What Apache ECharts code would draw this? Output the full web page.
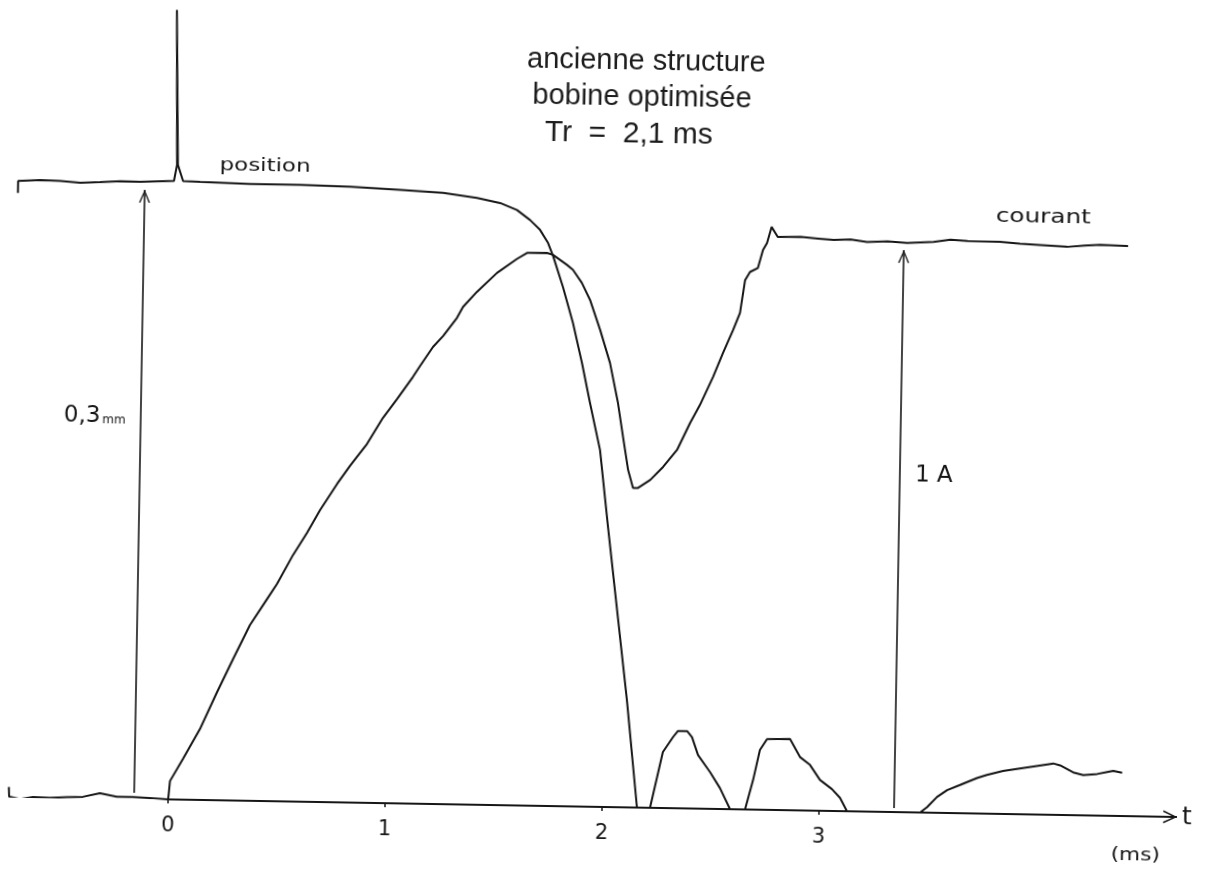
<!DOCTYPE html>
<html lang="fr">
<head>
<meta charset="utf-8">
<title>ancienne structure – bobine optimisée</title>
<script src="https://cdn.jsdelivr.net/npm/echarts@6.0.0/dist/echarts.min.js"></script>
<style>
  html, body { margin: 0; padding: 0; background: #fff; overflow: hidden; }
  /* the recorder sheet sits slightly askew */
  #chart { width: 1209px; height: 872px; background: #fff;
           transform: rotate(1deg); transform-origin: 604px 808px; }
</style>
</head>
<body>
<div id="chart"></div>
<script>
// time axis (ms)
const timeTicks = [0, 1, 2, 3];
const timeMin = -0.77;
const timeMax = 4.65;

// armature position (mm) versus time (ms)
const positionT = [
  -0.741, -0.741, -0.640, -0.548, -0.455, -0.364, -0.270, -0.179, -0.023,
  -0.010, -0.023, -0.006, 0.019,
  0.097, 0.328, 0.560, 0.791, 1.019, 1.218, 1.375, 1.482, 1.560, 1.621,
  1.668, 1.706, 1.730, 1.778, 1.827, 1.872, 1.912, 1.962, 2.005, 2.106,
  2.161, 2.221, 2.276, 2.322, 2.344, 2.386, 2.409, 2.438, 2.495, 2.542,
  2.590, 2.659, 2.694, 2.723, 2.755, 2.861, 2.908, 2.955, 3.002, 3.058,
  3.096, 3.129, 3.466, 3.498, 3.543, 3.589, 3.648, 3.680, 3.726, 3.771,
  3.845, 4.076, 4.108, 4.168, 4.215, 4.279, 4.325, 4.353, 4.394
];
const positionMm = [
  0.2974, 0.3033, 0.3040, 0.3037, 0.3030, 0.3035, 0.3041, 0.3039, 0.3047,
  0.3126, 0.3889, 0.3126, 0.3047,
  0.3044, 0.3038, 0.3038, 0.3033, 0.3022, 0.3011, 0.2989, 0.2966, 0.2933, 0.2885,
  0.2837, 0.2773, 0.2710, 0.2558, 0.2382, 0.2185, 0.1989, 0.1758, 0.1380, 0.0529,
  0, 0, 0.0276, 0.0351, 0.0381, 0.0381, 0.0352, 0.0264, 0.0181, 0.0103,
  0, 0, 0.0146, 0.0294, 0.0349, 0.0351, 0.0263, 0.0225, 0.0152, 0.0108,
  0.0065, 0, 0, 0.0027, 0.0078, 0.0113, 0.0139, 0.0154, 0.0175, 0.0191,
  0.0212, 0.0253, 0.0244, 0.0211, 0.0198, 0.0205, 0.0216, 0.0222, 0.0213
];

// coil current (A) versus time (ms)
const currentT = [
  -0.735, -0.733, -0.683, -0.623, -0.545, -0.467, -0.393, -0.315, -0.237,
  -0.163, -0.084, 0.000,
  0.007, 0.065, 0.141, 0.217, 0.288, 0.363, 0.440, 0.484, 0.556, 0.618,
  0.677, 0.753, 0.811, 0.888, 0.959, 1.023, 1.094, 1.126, 1.184, 1.230,
  1.292, 1.319, 1.382, 1.473, 1.564, 1.610, 1.702, 1.730, 1.795, 1.823,
  1.865, 1.904, 1.953, 2.001, 2.041, 2.067, 2.093, 2.117, 2.140, 2.196,
  2.254, 2.317, 2.375, 2.419, 2.477, 2.521, 2.566, 2.596, 2.617, 2.639,
  2.675, 2.697, 2.715, 2.735, 2.764, 2.870, 2.950, 3.022, 3.100, 3.176,
  3.270, 3.361, 3.482, 3.560, 3.639, 3.788, 3.880, 3.973, 4.098, 4.180,
  4.250, 4.379
];
const currentA = [
  0.0171, 0.000, -0.004, 0.000, -0.001, 0.001, 0.002, 0.009, 0.003,
  0.003, 0.002, 0.000,
  0.0327, 0.0724, 0.1262, 0.1926, 0.2518, 0.3128, 0.3596, 0.3866, 0.4388, 0.4783,
  0.5196, 0.5664, 0.5989, 0.6386, 0.6853, 0.7196, 0.7592, 0.7790, 0.8132, 0.8331,
  0.8655, 0.8852, 0.9125, 0.9468, 0.9724, 0.9834, 0.9840, 0.9806, 0.9633, 0.9546,
  0.9317, 0.9018, 0.8486, 0.7902, 0.7192, 0.6589, 0.6004, 0.5685, 0.5687, 0.5833,
  0.6068, 0.6375, 0.6859, 0.7183, 0.7685, 0.8116, 0.8528, 0.8833, 0.9418, 0.9564,
  0.9639, 0.9961, 1.0085, 1.0372, 1.0196, 1.0203, 1.0180, 1.0160, 1.0175, 1.0135,
  1.0150, 1.0130, 1.0155, 1.0200, 1.0183, 1.0176, 1.0150, 1.0135, 1.0109, 1.0140,
  1.0155, 1.0144
];

// scale arrows: [time, from, to]
const strokeArrow = [-0.157, 0.003, 0.3];   // 0,3 mm
const currentArrow = [3.346, 0.007, 1.0];   // 1 A

const INK = '#161616';
const HAND = "'DejaVu Sans', 'Noto Sans', sans-serif";
const TYPE = "'Liberation Sans', Arial, sans-serif";
// open arrow head; the empty first segment centres the tip on the end point
const ARROW_HEAD = 'path://M6,-13 L6,-13 M0,13 L6,0 L12,13 L10.6,13.6 L6,3.2 L1.4,13.6 Z';

const zip = (xs, ys) => xs.map((x, i) => [x, ys[i]]);

const text = (x, y, str, font, extra) => Object.assign({
  type: 'text', x, y,
  style: { text: str, font, fill: INK, textAlign: 'center', align: 'center',
           textVerticalAlign: 'middle', verticalAlign: 'middle' }
}, extra || {});

const chart = echarts.init(document.getElementById('chart'), null, { renderer: 'canvas' });

chart.setOption({
  backgroundColor: '#fff',
  animation: false,
  grid: { left: 1, right: 32, top: 0, bottom: 65 },
  xAxis: {
    type: 'value',
    min: timeMin,
    max: timeMax,
    name: 't',
    nameLocation: 'end',
    nameGap: 5,
    nameTextStyle: { fontFamily: HAND, fontSize: 25, color: INK, verticalAlign: 'middle' },
    axisLine: { show: false },
    axisTick: { show: true, customValues: timeTicks, length: 4, lineStyle: { color: INK, width: 1.5 } },
    axisLabel: {
      customValues: timeTicks,
      margin: 16,
      fontFamily: HAND,
      fontSize: 21,
      color: INK
    },
    splitLine: { show: false }
  },
  yAxis: [
    { type: 'value', min: 0, max: 0.39754, show: false },
    { type: 'value', min: 0, max: 1.43594, show: false }
  ],
  series: [
    {
      // time axis line, from t = 0 to its arrow
      name: 't',
      type: 'line',
      yAxisIndex: 0,
      data: [],
      silent: true,
      markLine: {
        silent: true,
        symbol: ['none', ARROW_HEAD],
        symbolSize: [13, 28],
        label: { show: false },
        lineStyle: { color: INK, width: 2, type: 'solid' },
        data: [[ { coord: [0, 0] }, { coord: [timeMax, 0] } ]]
      }
    },
    {
      name: 'position',
      type: 'line',
      yAxisIndex: 0,
      data: zip(positionT, positionMm),
      showSymbol: false,
      lineStyle: { color: INK, width: 2 },
      itemStyle: { color: INK },
      markLine: {
        silent: true,
        symbol: ['none', ARROW_HEAD],
        symbolSize: [11, 26],
        label: { show: false },
        lineStyle: { color: INK, width: 1.6, type: 'solid' },
        data: [[
          { coord: [strokeArrow[0], strokeArrow[1]] },
          { coord: [strokeArrow[0], strokeArrow[2]] }
        ]]
      }
    },
    {
      name: 'courant',
      type: 'line',
      yAxisIndex: 1,
      data: zip(currentT, currentA),
      showSymbol: false,
      lineStyle: { color: INK, width: 2 },
      itemStyle: { color: INK },
      markLine: {
        silent: true,
        symbol: ['none', ARROW_HEAD],
        symbolSize: [11, 26],
        label: { show: false },
        lineStyle: { color: INK, width: 1.6, type: 'solid' },
        data: [[
          { coord: [currentArrow[0], currentArrow[1]] },
          { coord: [currentArrow[0], currentArrow[2]] }
        ]]
      }
    }
  ],
  graphic: [
    text(514, 61, 'ancienne structure', `29px ${TYPE}`, { style: { text: 'ancienne structure', font: `29px ${TYPE}`, fill: '#1c1c1c', textAlign: 'left', align: 'left', textVerticalAlign: 'middle', verticalAlign: 'middle' } }),
    text(520, 97, 'bobine optimisée', `29px ${TYPE}`, { style: { text: 'bobine optimisée', font: `29px ${TYPE}`, fill: '#1c1c1c', textAlign: 'left', align: 'left', textVerticalAlign: 'middle', verticalAlign: 'middle' } }),
    text(533, 134, 'Tr  =  2,1 ms', `30px ${TYPE}`, { style: { text: 'Tr  =  2,1 ms', font: `30px ${TYPE}`, fill: '#1c1c1c', textAlign: 'left', align: 'left', textVerticalAlign: 'middle', verticalAlign: 'middle' } }),
    text(254, 173, 'position', `17px ${HAND}`, { scaleX: 1.35 }),
    text(1033, 210, 'courant', `19px ${HAND}`, { scaleX: 1.3 }),
    text(928, 470, '1 A', `23px ${HAND}`),
    {
      type: 'text', x: 88, y: 425,
      style: {
        text: '{big|0,3}{small|mm}', fill: INK, textAlign: 'center', align: 'center',
        textVerticalAlign: 'middle', verticalAlign: 'middle',
        rich: {
          big: { fontFamily: HAND, fontSize: 23, fill: INK },
          small: { fontFamily: HAND, fontSize: 12, fill: INK, padding: [7, 0, 0, 2] }
        }
      }
    },
    text(1136, 846, '(ms)', `18px ${HAND}`, { scaleX: 1.2 })
  ]
});
</script>
</body>
</html>
